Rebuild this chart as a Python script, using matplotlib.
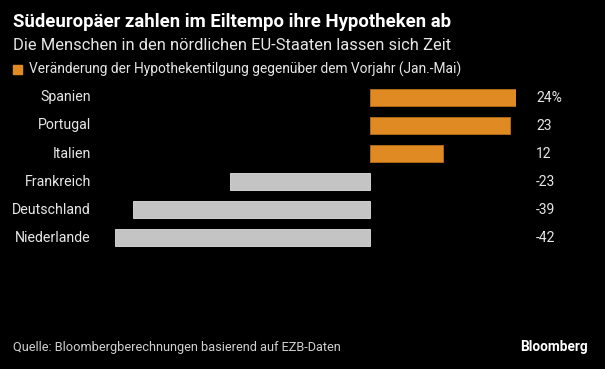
import matplotlib.pyplot as plt

# Data
countries = ['Spanien', 'Portugal', 'Italien', 'Frankreich', 'Deutschland', 'Niederlande']
changes = [24, 23, 12, -23, -39, -42]
value_labels = ['24%', '23', '12', '-23', '-39', '-42']

orange = '#E08A24'
grey = '#C4C4C4'
bg = '#000000'

plt.rcParams['font.family'] = ['Roboto', 'DejaVu Sans']

fig = plt.figure(figsize=(6.05, 3.69), dpi=100, facecolor=bg)
W, H = 605, 369

# axes placed so zero sits at ~x=370 px
ax = fig.add_axes([115 / W, 1 - 251.5 / H, 401 / W, 168 / H], facecolor=bg)

ypos = list(range(len(countries)))
colors = [orange if v > 0 else grey for v in changes]
edges = ['#B86E17' if v > 0 else '#E0E0E0' for v in changes]
ax.barh(ypos, changes, height=0.6, color=colors, edgecolor=edges, linewidth=0.6)

ax.set_xlim(-42, 24)
ax.set_ylim(len(countries) - 0.5, -0.5)
ax.axis('off')

# category labels and values, in figure pixel coords
for i, (c, lab) in enumerate(zip(countries, value_labels)):
    yc = 97.5 + i * 28
    fig.text(91 / W, 1 - yc / H, c, color='#E6E6E6', fontsize=10.2,
             ha='right', va='center')
    fig.text(536 / W, 1 - yc / H, lab, color='#E6E6E6', fontsize=10,
             ha='left', va='center')

# titles
fig.text(13 / W, 1 - 22 / H, 'Südeuropäer zahlen im Eiltempo ihre Hypotheken ab',
         color='white', fontsize=13.3, fontweight='bold', ha='left', va='center')
fig.text(13 / W, 1 - 46 / H, 'Die Menschen in den nördlichen EU-Staaten lassen sich Zeit',
         color='#E6E6E6', fontsize=11.9, ha='left', va='center')

# legend
fig.patches.append(plt.Rectangle((13 / W, 1 - 74 / H), 9 / W, 9 / H,
                                 transform=fig.transFigure, color=orange))
fig.text(29 / W, 1 - 69.5 / H,
         'Veränderung der Hypothekentilgung gegenüber dem Vorjahr (Jan.-Mai)',
         color='#E6E6E6', fontsize=9.95, ha='left', va='center')

# footer
fig.text(13 / W, 1 - 347 / H, 'Quelle: Bloombergberechnungen basierend auf EZB-Daten',
         color='#D0D0D0', fontsize=9.2, ha='left', va='center')
fig.text(588 / W, 1 - 347 / H, 'Bloomberg', color='white', fontsize=9.8,
         fontweight='bold', ha='right', va='center')

fig.savefig('out.png', dpi=100, facecolor=bg)
